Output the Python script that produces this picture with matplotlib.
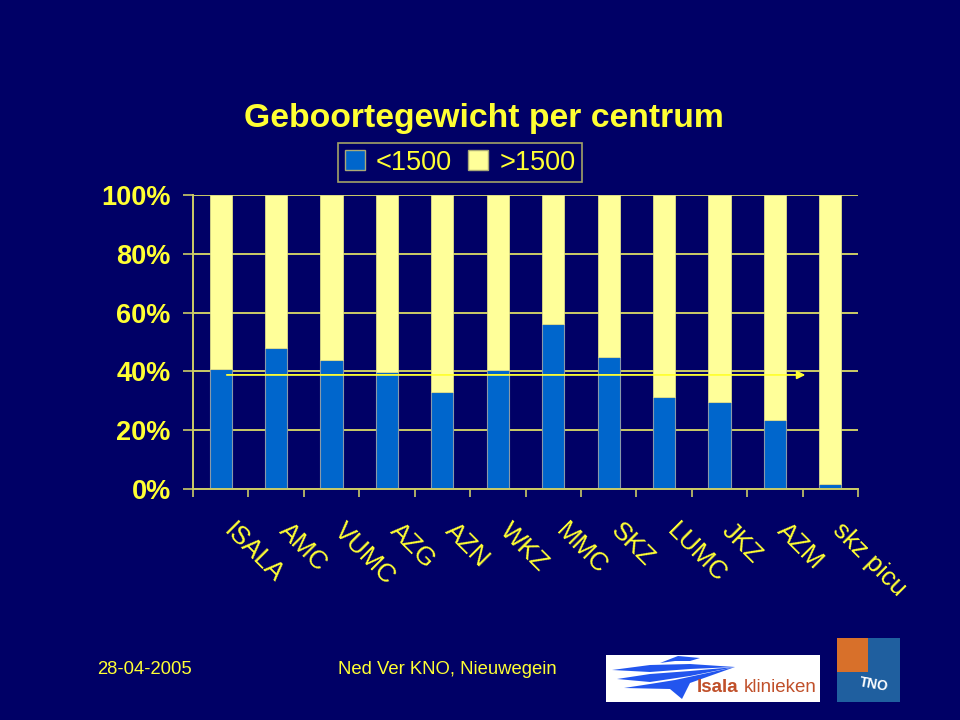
import matplotlib
matplotlib.use("Agg")
import matplotlib.pyplot as plt
import matplotlib.transforms as mtransforms
from matplotlib.patches import Rectangle, Patch, Polygon
import numpy as np

plt.rcParams['font.family'] = ['Liberation Sans', 'DejaVu Sans']

# ---- data ----
centra = ["ISALA", "AMC", "VUMC", "AZG", "AZN", "WKZ", "MMC", "SKZ",
          "LUMC", "JKZ", "AZM", "skz picu"]
onder_1500 = [0.407, 0.479, 0.438, 0.399, 0.330, 0.404, 0.561, 0.449,
              0.312, 0.296, 0.235, 0.017]
boven_1500 = [1 - v for v in onder_1500]
ytick_vals = [0, 0.2, 0.4, 0.6, 0.8, 1.0]
ytick_labels = ["0%", "20%", "40%", "60%", "80%", "100%"]
legend_labels = ["<1500", ">1500"]
avg_line = 0.388
title = "Geboortegewicht per centrum"
footer_date = "28-04-2005"
footer_place = "Ned Ver KNO, Nieuwegein"

# ---- style ----
BG = '#000066'
YEL = '#FFFF33'
BLUE = '#0066CC'
LYEL = '#FFFF99'
GRID = '#CCCC66'

fig = plt.figure(figsize=(9.6, 7.2), dpi=100, facecolor=BG)
ax = fig.add_axes([193/960, 1-489/720, 665/960, 294/720], facecolor=BG)

x = np.arange(len(centra))
w = 0.40
ax.bar(x, onder_1500, width=w, color=BLUE, edgecolor='#8899AA', linewidth=0.8, zorder=3)
ax.bar(x, boven_1500, bottom=onder_1500, width=w, color=LYEL, edgecolor='#DDDD88',
       linewidth=0.6, zorder=3)

ax.set_xlim(-0.5, len(centra) - 0.5)
ax.set_ylim(0, 1.0)

ax.set_yticks(ytick_vals)
ax.set_yticklabels(ytick_labels)
ax.yaxis.grid(True, color=GRID, linewidth=1.4, zorder=0)
ax.set_axisbelow(True)
ax.tick_params(axis='y', colors=GRID, labelcolor=YEL, labelsize=19.5, length=7,
               width=1.2, pad=9)
for lab in ax.get_yticklabels():
    lab.set_fontweight('bold')

ax.set_xticks(x)
ax.set_xticklabels(centra, rotation=-45, ha='left', va='top', rotation_mode='anchor',
                   fontsize=18.5, color=YEL)
ax.tick_params(axis='x', which='major', length=0, pad=21)
ax.set_xticks(np.arange(-0.5, len(centra)), minor=True)
ax.tick_params(axis='x', which='minor', length=6, width=1.2, colors=GRID, direction='out')
off = mtransforms.ScaledTranslation(15/100, 0, fig.dpi_scale_trans)
for lab in ax.get_xticklabels():
    lab.set_transform(lab.get_transform() + off)

for s in ['top', 'right']:
    ax.spines[s].set_visible(False)
for s in ['left', 'bottom']:
    ax.spines[s].set_color(GRID)
    ax.spines[s].set_linewidth(1.4)
    ax.spines[s].set_zorder(4)

# average arrow line
ax.annotate('', xy=(10.55, avg_line), xytext=(0.11, avg_line),
            arrowprops=dict(arrowstyle='-|>', color=YEL, lw=1.3, mutation_scale=12,
                            shrinkA=0, shrinkB=0),
            zorder=5)

# title
fig.text(484/960, 1-119/720, title, ha='center', va='center', fontsize=24.3,
         fontweight='bold', color=YEL)

# legend
handles = [Patch(facecolor=BLUE, edgecolor='#AAAA77', linewidth=1),
           Patch(facecolor=LYEL, edgecolor='#AAAA77', linewidth=1)]
leg = fig.legend(handles, legend_labels, loc='center', bbox_to_anchor=(460/960, 1-162.5/720),
                 ncol=2, frameon=True, fontsize=19.5, handlelength=0.75, handleheight=0.75,
                 handletextpad=0.4, columnspacing=0.6, borderpad=0.25, borderaxespad=0,
                 fancybox=False)
leg.get_frame().set_facecolor(BG)
leg.get_frame().set_edgecolor(GRID)
leg.get_frame().set_linewidth(1.2)
for t in leg.get_texts():
    t.set_color(YEL)

# footer
fig.text(97/960, 1-670/720, footer_date, ha='left', va='center', fontsize=13.3, color=YEL)
fig.text(447/960, 1-670/720, footer_place, ha='center', va='center', fontsize=13.3, color=YEL)

# Isala logo (simplified)
fig.patches.append(Rectangle((606/960, 1-702/720), 214/960, 47/720,
                             transform=fig.transFigure, facecolor='white', edgecolor='none'))
swoosh = [
    [(612, 670), (650, 665), (690, 664), (735, 667), (690, 669), (650, 672)],
    [(617, 679), (650, 674), (690, 671), (735, 667), (690, 676), (650, 682)],
    [(624, 688), (650, 684), (675, 680), (735, 667), (690, 683), (682, 699), (670, 689)],
    [(660, 663), (678, 656), (700, 658), (690, 661), (675, 661)],
]
for poly in swoosh:
    fig.patches.append(Polygon([(px/960, 1-py/720) for px, py in poly], closed=True,
                               transform=fig.transFigure, facecolor='#2255EE', edgecolor='none'))
fig.text(697/960, 1-687/720, "Isala", ha='left', va='center', fontsize=13.5,
         fontweight='bold', color='#C0502A')
fig.text(744/960, 1-687/720, "klinieken", ha='left', va='center', fontsize=13.5,
         color='#C0502A')

# TNO logo (simplified)
fig.patches.append(Rectangle((837/960, 1-702/720), 63/960, 64/720,
                             transform=fig.transFigure, facecolor='#1F5F9F', edgecolor='none'))
fig.patches.append(Rectangle((837/960, 1-672/720), 31/960, 34/720,
                             transform=fig.transFigure, facecolor='#D8702A', edgecolor='none'))
fig.text(874/960, 1-685/720, "TNO", ha='center', va='center', fontsize=10,
         fontweight='bold', color='white', rotation=-10)

fig.savefig("out.png", dpi=100, facecolor=BG)
